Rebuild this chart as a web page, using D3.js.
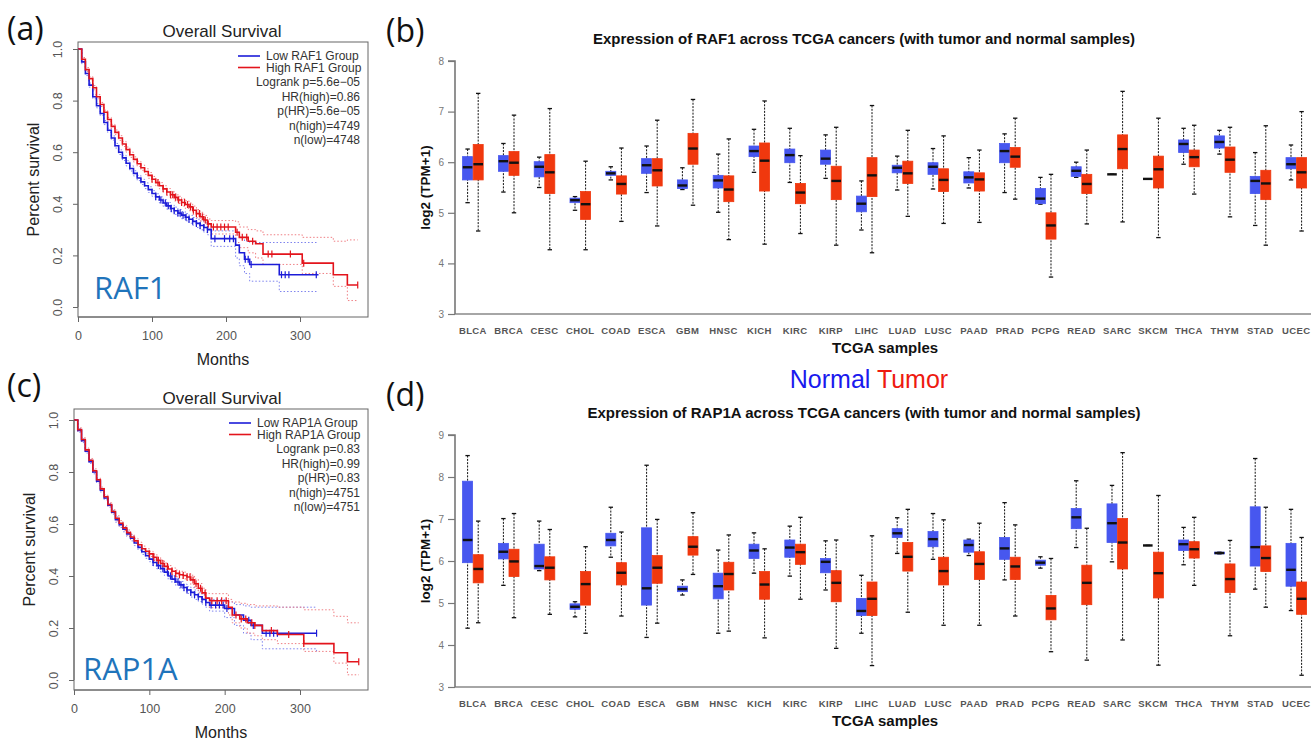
<!DOCTYPE html>
<html>
<head>
<meta charset="utf-8">
<script src="https://cdn.jsdelivr.net/npm/d3@7"></script>
<style>
  body { margin: 0; background: #fff; }
  svg { display: block; font-family: "Liberation Sans", Arial, sans-serif; }
</style>
</head>
<body>
<svg id="fig" width="1311" height="740"></svg>
<script>
// ---- survival data (months, survival fraction, lower / upper 95% band) ----
const earlyT = [0, 5, 10, 15, 20, 25, 30, 35, 40, 45, 50, 55, 60, 65, 70, 75, 80, 85, 90, 95, 100,
  105, 110, 115, 120, 125, 130, 135, 140, 145, 150, 155, 160, 165, 170, 175];

const lowRaf1T  = earlyT.concat([180, 213, 218, 225, 232, 272, 325]);
const lowRaf1S  = [1, .95, .905, .86, .815, .78, .75, .715, .685, .655, .625, .60, .578, .557, .537, .518, .50, .485, .47, .455, .44, .427, .415, .403, .392, .382, .373, .364, .356, .348, .34, .332, .324, .316, .308, .30,
  .265, .24, .21, .185, .165, .125, .125];
const lowRaf1Lo = [1, .943, .897, .852, .807, .772, .742, .707, .677, .647, .616, .591, .568, .547, .527, .508, .49, .475, .459, .444, .429, .415, .403, .39, .379, .369, .359, .35, .342, .334, .325, .317, .308, .299, .29, .28,
  .235, .19, .16, .13, .10, .06, .06];
const lowRaf1Hi = [1, .957, .913, .868, .823, .788, .758, .723, .693, .663, .634, .609, .588, .567, .547, .528, .51, .495, .481, .466, .451, .439, .427, .416, .405, .395, .387, .378, .37, .362, .355, .347, .34, .333, .326, .32,
  .295, .29, .27, .255, .25, .25, .25];
const lowRaf1Cens = [105, 112, 118, 122, 126, 130, 135, 138, 142, 146, 150, 155, 160, 165, 170, 175, 185, 198, 205, 210, 226, 230, 234, 275, 280, 285, 322];

const highRaf1T  = earlyT.concat([180, 213, 218, 230, 240, 250, 303, 345, 364, 378]);
const highRaf1S  = [1, .96, .92, .885, .85, .815, .785, .755, .727, .70, .677, .655, .632, .61, .59, .572, .555, .54, .525, .51, .495, .482, .47, .458, .446, .435, .425, .415, .405, .397, .388, .375, .362, .35, .337, .322,
  .31, .29, .27, .255, .245, .205, .17, .125, .085, .085];
const highRaf1Lo = [1, .953, .912, .877, .842, .807, .777, .747, .719, .692, .668, .646, .622, .60, .58, .562, .545, .53, .514, .499, .484, .47, .458, .446, .433, .422, .411, .401, .391, .382, .373, .359, .346, .333, .319, .303,
  .283, .25, .23, .21, .19, .165, .13, .08, .025, .025];
const highRaf1Hi = [1, .967, .928, .893, .858, .823, .793, .763, .735, .708, .686, .664, .642, .62, .60, .582, .565, .55, .536, .521, .506, .494, .482, .47, .459, .448, .439, .429, .419, .412, .403, .391, .378, .367, .355, .341,
  .335, .33, .31, .30, .295, .28, .27, .255, .26, .26];
const highRaf1Cens = [100, 108, 115, 120, 125, 128, 132, 136, 140, 144, 148, 152, 156, 160, 164, 168, 172, 176, 183, 188, 193, 198, 203, 215, 222, 228, 236, 257, 262, 287, 305, 378];

const lowRap1aT  = earlyT.concat([180, 200, 213, 225, 235, 250, 322]);
const lowRap1aS  = [1, .96, .92, .88, .84, .80, .765, .73, .70, .672, .645, .617, .597, .58, .562, .545, .527, .51, .493, .478, .465, .452, .44, .428, .415, .40, .388, .377, .366, .356, .346, .337, .328, .32, .31, .298,
  .288, .275, .25, .23, .21, .18, .18];
const lowRap1aLo = [1, .953, .913, .873, .833, .793, .758, .723, .693, .665, .638, .607, .587, .57, .552, .535, .517, .50, .483, .468, .455, .439, .427, .415, .402, .387, .375, .364, .353, .343, .333, .319, .31, .302, .292, .28,
  .265, .24, .21, .18, .155, .12, .11];
const lowRap1aHi = [1, .967, .927, .887, .847, .807, .772, .737, .707, .679, .652, .627, .607, .59, .572, .555, .537, .52, .503, .488, .475, .465, .453, .441, .428, .413, .401, .39, .379, .369, .359, .355, .346, .338, .328, .316,
  .31, .30, .29, .285, .28, .28, .28];
const lowRap1aCens = [105, 112, 118, 124, 128, 134, 138, 142, 146, 150, 155, 160, 165, 170, 175, 182, 188, 193, 198, 203, 232, 238, 255, 260, 265, 270, 322];

const highRap1aT  = earlyT.concat([180, 205, 210, 220, 230, 240, 250, 270, 305, 345, 363, 378]);
const highRap1aS  = [1, .963, .925, .885, .845, .805, .77, .735, .705, .675, .648, .622, .603, .585, .567, .55, .535, .52, .505, .495, .485, .472, .46, .448, .437, .427, .418, .41, .405, .402, .396, .385, .37, .353, .335, .315,
  .305, .28, .25, .235, .22, .21, .19, .175, .14, .105, .07, .07];
const highRap1aLo = [1, .956, .918, .878, .838, .798, .763, .728, .698, .668, .641, .612, .593, .575, .557, .54, .525, .51, .495, .485, .475, .459, .447, .435, .424, .414, .405, .397, .392, .389, .383, .367, .352, .335, .317, .297,
  .278, .25, .22, .2, .18, .17, .155, .14, .11, .065, .02, .02];
const highRap1aHi = [1, .97, .932, .892, .852, .812, .777, .742, .712, .682, .655, .632, .613, .595, .577, .56, .545, .53, .515, .505, .495, .485, .473, .461, .45, .44, .431, .423, .418, .415, .409, .403, .388, .371, .353, .333,
  .332, .31, .30, .295, .29, .285, .285, .28, .27, .245, .22, .22];
const highRap1aCens = [100, 106, 112, 118, 124, 130, 135, 140, 145, 150, 154, 158, 162, 168, 174, 183, 190, 196, 202, 215, 222, 228, 236, 240, 262, 285, 305, 378];

const raf1Stats  = ["Logrank p=5.6e\u221205", "HR(high)=0.86", "p(HR)=5.6e\u221205", "n(high)=4749", "n(low)=4748"];
const rap1aStats = ["Logrank p=0.83", "HR(high)=0.99", "p(HR)=0.83", "n(high)=4751", "n(low)=4751"];

// ---- expression data: [min, q1, median, q3, max] per cancer ----
const cancers = ["BLCA", "BRCA", "CESC", "CHOL", "COAD", "ESCA", "GBM", "HNSC", "KICH", "KIRC", "KIRP", "LIHC",
  "LUAD", "LUSC", "PAAD", "PRAD", "PCPG", "READ", "SARC", "SKCM", "THCA", "THYM", "STAD", "UCEC"];

const raf1Normal = [
  [5.20, 5.65, 5.90, 6.11, 6.26], [5.41, 5.82, 6.02, 6.13, 6.37], [5.50, 5.71, 5.91, 6.01, 6.10], [5.05, 5.20, 5.25, 5.29, 5.32],
  [5.65, 5.74, 5.78, 5.82, 5.91], [5.40, 5.78, 5.94, 6.07, 6.32], [5.46, 5.48, 5.54, 5.65, 5.89], [5.01, 5.49, 5.64, 5.74, 6.16],
  [5.80, 6.11, 6.22, 6.32, 6.65], [5.60, 5.99, 6.14, 6.26, 6.67], [5.68, 5.96, 6.07, 6.24, 6.54], [4.66, 5.02, 5.18, 5.33, 5.63],
  [5.45, 5.79, 5.89, 5.94, 6.12], [5.47, 5.76, 5.91, 5.99, 6.27], [5.49, 5.59, 5.70, 5.81, 6.09], [5.40, 5.99, 6.22, 6.37, 6.56],
  [5.17, 5.18, 5.28, 5.48, 5.70], [5.70, 5.72, 5.83, 5.91, 6.00], [5.76, 5.76, 5.76, 5.76, 5.76], [5.67, 5.67, 5.67, 5.67, 5.67],
  [5.96, 6.19, 6.36, 6.44, 6.67], [6.16, 6.28, 6.40, 6.52, 6.63], [4.75, 5.38, 5.63, 5.72, 6.19], [5.65, 5.87, 5.96, 6.09, 6.34]
];
const raf1Tumor = [
  [4.64, 5.65, 5.96, 6.35, 7.36], [5.00, 5.74, 5.99, 6.21, 6.93], [4.27, 5.38, 5.80, 6.15, 7.06], [4.27, 4.87, 5.17, 5.42, 6.02],
  [4.83, 5.37, 5.57, 5.73, 6.28], [4.74, 5.53, 5.84, 6.07, 6.83], [5.15, 5.96, 6.27, 6.57, 7.24], [4.47, 5.22, 5.46, 5.73, 6.46],
  [4.38, 5.43, 6.03, 6.38, 7.21], [4.59, 5.18, 5.40, 5.58, 6.13], [4.36, 5.26, 5.63, 5.92, 6.69], [4.21, 5.32, 5.74, 6.09, 7.12],
  [4.93, 5.58, 5.78, 6.02, 6.63], [4.79, 5.42, 5.65, 5.87, 6.52], [4.81, 5.43, 5.66, 5.79, 6.24], [5.27, 5.90, 6.11, 6.29, 6.87],
  [3.73, 4.48, 4.75, 5.00, 5.76], [4.78, 5.38, 5.57, 5.76, 6.24], [4.82, 5.87, 6.26, 6.54, 7.40], [4.51, 5.49, 5.86, 6.12, 6.87],
  [5.37, 5.91, 6.10, 6.24, 6.73], [4.92, 5.80, 6.05, 6.30, 6.69], [4.36, 5.26, 5.58, 5.84, 6.72], [4.64, 5.49, 5.80, 6.09, 7.00]
];
const rap1aNormal = [
  [4.40, 5.96, 6.50, 7.90, 8.51], [5.42, 6.05, 6.22, 6.42, 7.01], [5.77, 5.81, 5.88, 6.40, 6.95], [4.67, 4.85, 4.91, 4.98, 5.03],
  [6.09, 6.36, 6.50, 6.66, 7.28], [4.18, 4.95, 5.35, 6.79, 8.28], [5.19, 5.27, 5.33, 5.40, 5.55], [4.28, 5.10, 5.40, 5.71, 6.26],
  [5.71, 6.06, 6.25, 6.40, 6.67], [5.64, 6.09, 6.32, 6.50, 6.83], [5.31, 5.72, 5.98, 6.06, 6.48], [4.28, 4.70, 4.81, 5.11, 5.66],
  [6.18, 6.56, 6.66, 6.77, 7.03], [6.04, 6.34, 6.52, 6.70, 7.13], [6.13, 6.21, 6.38, 6.50, 6.52], [5.55, 6.04, 6.30, 6.56, 7.39],
  [5.83, 5.90, 5.96, 6.02, 6.10], [6.32, 6.77, 7.04, 7.25, 7.91], [5.98, 6.44, 6.90, 7.36, 7.80], [6.37, 6.37, 6.37, 6.37, 6.37],
  [5.91, 6.25, 6.40, 6.50, 6.80], [6.17, 6.17, 6.19, 6.21, 6.21], [5.33, 5.88, 6.33, 7.29, 8.44], [4.82, 5.40, 5.79, 6.42, 7.23]
];
const rap1aTumor = [
  [4.53, 5.48, 5.81, 6.15, 6.95], [4.65, 5.63, 5.99, 6.28, 7.13], [4.73, 5.55, 5.84, 6.10, 6.75], [4.28, 4.95, 5.45, 5.75, 6.34],
  [4.69, 5.43, 5.72, 5.96, 6.69], [4.52, 5.47, 5.84, 6.13, 6.99], [5.68, 6.14, 6.34, 6.58, 7.15], [4.33, 5.31, 5.69, 5.97, 6.62],
  [4.17, 5.09, 5.44, 5.75, 6.29], [5.09, 5.92, 6.21, 6.40, 7.04], [3.92, 5.03, 5.48, 5.77, 6.50], [3.51, 4.70, 5.10, 5.50, 6.60],
  [4.78, 5.76, 6.10, 6.44, 7.23], [4.47, 5.43, 5.76, 6.09, 6.98], [4.47, 5.56, 5.93, 6.22, 6.90], [4.69, 5.56, 5.87, 6.09, 6.86],
  [3.84, 4.60, 4.87, 5.18, 6.06], [3.64, 4.96, 5.48, 5.90, 6.78], [4.12, 5.81, 6.44, 7.01, 8.58], [3.52, 5.12, 5.71, 6.21, 7.56],
  [5.42, 6.07, 6.28, 6.46, 7.04], [4.22, 5.25, 5.57, 5.93, 6.49], [4.90, 5.75, 6.07, 6.36, 7.28], [3.28, 4.73, 5.10, 5.50, 6.56]
];

const svg = d3.select("#fig");
const BLUE = "#1c1cd8", RED = "#e3141c";

function panelLabel(txt, x, y) {
  svg.append("text").attr("x", x).attr("y", y).text(txt)
    .style("font-family", "'Open Sans', sans-serif").style("font-size", "32px").attr("fill", "#111");
}

// ---------- Kaplan-Meier panel ----------
function survival(o) {
  const g = svg.append("g");
  const x = d3.scaleLinear().domain([0, 300]).range([o.left, o.x300]);
  const y = d3.scaleLinear().domain([0, 1]).range([o.y0, o.y1]);

  g.append("rect").attr("x", o.left).attr("y", o.top)
    .attr("width", o.right - o.left).attr("height", o.bottom - o.top)
    .attr("fill", "none").attr("stroke", "#666").attr("stroke-width", 1);

  const line = d3.line().curve(d3.curveStepAfter).x(d => x(d[0])).y(d => y(d[1]));
  const stepAt = (T, S, t) => S[d3.bisectRight(T, t) - 1];

  o.curves.forEach(c => {
    [c.lo, c.hi].forEach(b => {
      g.append("path").datum(c.T.map((t, i) => [t, b[i]])).attr("d", line)
        .attr("fill", "none").attr("stroke", c.band).attr("stroke-width", 1)
        .attr("stroke-dasharray", "1.5,2");
    });
  });
  o.curves.forEach(c => {
    g.append("path").datum(c.T.map((t, i) => [t, c.S[i]])).attr("d", line)
      .attr("fill", "none").attr("stroke", c.color).attr("stroke-width", 1.6);
    g.selectAll(null).data(c.cens).join("line")
      .attr("x1", d => x(d)).attr("x2", d => x(d))
      .attr("y1", d => y(stepAt(c.T, c.S, d)) - 3.5).attr("y2", d => y(stepAt(c.T, c.S, d)) + 3.5)
      .attr("stroke", c.color).attr("stroke-width", 1.2);
  });

  // axes
  const ax = g.append("g").attr("transform", `translate(0,${o.bottom})`)
    .call(d3.axisBottom(x).tickValues([0, 100, 200, 300]).tickSize(5).tickPadding(9));
  ax.select(".domain").attr("stroke", "#666").attr("d", `M${x(0)},0H${x(300)}`);
  ax.selectAll(".tick line").attr("stroke", "#666");
  ax.selectAll(".tick text").attr("fill", "#555").style("font-size", "12.5px");

  const ay = g.append("g").attr("transform", `translate(${o.left},0)`)
    .call(d3.axisLeft(y).tickValues([0, 0.2, 0.4, 0.6, 0.8, 1]).tickFormat(d3.format(".1f")).tickSize(5));
  ay.select(".domain").attr("stroke", "#666").attr("d", `M0,${y(0)}V${y(1)}`);
  ay.selectAll(".tick line").attr("stroke", "#666");
  ay.selectAll(".tick text").attr("fill", "#555").style("font-size", "12.5px")
    .attr("transform", "rotate(-90)").attr("x", 0).attr("y", -o.tickOff).attr("dy", 0)
    .attr("text-anchor", "middle");

  const cx = (o.left + o.right) / 2;
  g.append("text").attr("x", 222).attr("y", o.titleY).attr("text-anchor", "middle")
    .style("font-size", "17px").attr("fill", "#222").text("Overall Survival");
  g.append("text").attr("x", cx).attr("y", o.monthsY).attr("text-anchor", "middle")
    .style("font-size", "16px").attr("fill", "#222").text("Months");
  g.append("text").attr("transform", `translate(${o.ylabX},${(o.top + o.bottom) / 2}) rotate(-90)`)
    .attr("text-anchor", "middle").style("font-size", "16px").attr("fill", "#222").text("Percent survival");

  // legend
  o.curves.forEach((c, i) => {
    const ly = o.legY + i * 11.5;
    g.append("line").attr("x1", o.legX).attr("x2", o.legX + 22).attr("y1", ly).attr("y2", ly)
      .attr("stroke", c.color).attr("stroke-width", 1.6);
    g.append("text").attr("x", o.legX + 28).attr("y", ly + 4).style("font-size", "12px")
      .attr("fill", "#333").text(c.name);
  });
  o.stats.forEach((s, i) => {
    g.append("text").attr("x", 360).attr("y", o.legY + 30 + i * 14.5).attr("text-anchor", "end")
      .style("font-size", "12px").attr("fill", "#333").text(s);
  });

  g.append("text").attr("x", o.geneX).attr("y", o.geneY).text(o.gene)
    .style("font-family", "'Open Sans', sans-serif").style("font-size", "31px").attr("fill", "#1f74bb");
}

// ---------- expression box plot panel ----------
function boxes(o) {
  const g = svg.append("g");
  const x = d3.scaleBand().domain(cancers).range([455, 455 + 24 * 35.8]);
  const y = d3.scaleLinear().domain([3, o.max]).range([o.base, o.topY]);
  const w = 10.6;

  g.append("line").attr("x1", 455).attr("x2", 1311).attr("y1", o.base).attr("y2", o.base)
    .attr("stroke", "#888").attr("stroke-width", 1.6);
  const ay = g.append("g").attr("transform", "translate(455,0)")
    .call(d3.axisLeft(y).ticks(o.max - 3).tickFormat(d3.format("d")).tickSize(7).tickPadding(4));
  ay.select(".domain").attr("stroke", "#777").attr("stroke-width", 1.6).attr("d", `M0,${y(3)}V${y(o.max)}H-7`);
  ay.selectAll(".tick line").attr("stroke", "#777").attr("stroke-width", 1.2);
  ay.selectAll(".tick text").attr("fill", "#777").style("font-size", "10px");

  const sets = [
    { data: o.normal, off: -w, fill: "#4757ef" },
    { data: o.tumor, off: 0, fill: "#f0380e" }
  ];
  sets.forEach(s => {
    const gg = g.append("g").selectAll("g").data(s.data).join("g")
      .attr("transform", (d, i) => `translate(${x(cancers[i]) + x.bandwidth() / 2 + s.off},0)`);
    gg.append("line").attr("x1", w / 2).attr("x2", w / 2)
      .attr("y1", d => y(d[4])).attr("y2", d => y(d[0]))
      .attr("stroke", "#111").attr("stroke-width", 1).attr("stroke-dasharray", "2,1.3");
    gg.append("line").attr("x1", w / 2 - 2.2).attr("x2", w / 2 + 2.2)
      .attr("y1", d => y(d[4])).attr("y2", d => y(d[4])).attr("stroke", "#111").attr("stroke-width", 1.3);
    gg.append("line").attr("x1", w / 2 - 2.2).attr("x2", w / 2 + 2.2)
      .attr("y1", d => y(d[0])).attr("y2", d => y(d[0])).attr("stroke", "#111").attr("stroke-width", 1.3);
    gg.append("rect").attr("x", 0.3).attr("width", w - 0.6)
      .attr("y", d => y(d[3])).attr("height", d => Math.max(0, y(d[1]) - y(d[3])))
      .attr("fill", s.fill).attr("stroke", s.fill).attr("stroke-width", 0.8);
    gg.append("line").attr("x1", 0.5).attr("x2", w - 0.5)
      .attr("y1", d => y(d[2])).attr("y2", d => y(d[2])).attr("stroke", "#111").attr("stroke-width", 2.4);
  });

  g.append("g").selectAll("text").data(cancers).join("text")
    .attr("x", d => x(d) + x.bandwidth() / 2).attr("y", o.base + 20).attr("text-anchor", "middle")
    .style("font-size", "9.5px").style("font-weight", "bold").style("letter-spacing", "0.4px")
    .attr("fill", "#555").text(d => d);
  g.append("text").attr("x", 885).attr("y", o.base + 39).attr("text-anchor", "middle")
    .style("font-size", "15px").style("font-weight", "bold").attr("fill", "#111").text("TCGA samples");
  g.append("text").attr("transform", `translate(430,${(o.base + o.topY) / 2}) rotate(-90)`)
    .attr("text-anchor", "middle").style("font-size", "13.5px").style("font-weight", "bold")
    .attr("fill", "#111").text("log2 (TPM+1)");
  g.append("text").attr("x", 864).attr("y", o.titleY).attr("text-anchor", "middle")
    .style("font-size", "15px").style("font-weight", "bold").attr("fill", "#111").text(o.title);
}

survival({
  left: 78, right: 368, top: 42, bottom: 317, x300: 300, y0: 307, y1: 49,
  titleY: 37, monthsY: 365, ylabX: 39, tickOff: 16, legX: 238, legY: 56,
  gene: "RAF1", geneX: 94, geneY: 299, stats: raf1Stats,
  curves: [
    { name: "Low RAF1 Group", color: BLUE, band: "#7f84ee", T: lowRaf1T, S: lowRaf1S, lo: lowRaf1Lo, hi: lowRaf1Hi, cens: lowRaf1Cens },
    { name: "High RAF1 Group", color: RED, band: "#ef7f84", T: highRaf1T, S: highRaf1S, lo: highRaf1Lo, hi: highRaf1Hi, cens: highRaf1Cens }
  ]
});

survival({
  left: 74, right: 368, top: 409, bottom: 690, x300: 300, y0: 680, y1: 420,
  titleY: 404, monthsY: 738, ylabX: 35, tickOff: 16, legX: 229, legY: 423,
  gene: "RAP1A", geneX: 83, geneY: 680, stats: rap1aStats,
  curves: [
    { name: "Low RAP1A Group", color: BLUE, band: "#7f84ee", T: lowRap1aT, S: lowRap1aS, lo: lowRap1aLo, hi: lowRap1aHi, cens: lowRap1aCens },
    { name: "High RAP1A Group", color: RED, band: "#ef7f84", T: highRap1aT, S: highRap1aS, lo: highRap1aLo, hi: highRap1aHi, cens: highRap1aCens }
  ]
});

boxes({
  normal: raf1Normal, tumor: raf1Tumor, max: 8, base: 314, topY: 61, titleY: 44,
  title: "Expression of RAF1 across TCGA cancers (with tumor and normal samples)"
});
boxes({
  normal: rap1aNormal, tumor: rap1aTumor, max: 9, base: 687, topY: 435, titleY: 418,
  title: "Expression of RAP1A across TCGA cancers (with tumor and normal samples)"
});

// Normal / Tumor legend
const lg = svg.append("text").attr("x", 869).attr("y", 388).attr("text-anchor", "middle")
  .style("font-size", "25px");
lg.append("tspan").attr("fill", "#1a1aee").text("Normal ");
lg.append("tspan").attr("fill", "#ee1a10").text("Tumor");

panelLabel("(a)", 7, 40);
panelLabel("(b)", 386, 42);
panelLabel("(c)", 7, 397);
panelLabel("(d)", 386, 406);
</script>
</body>
</html>
